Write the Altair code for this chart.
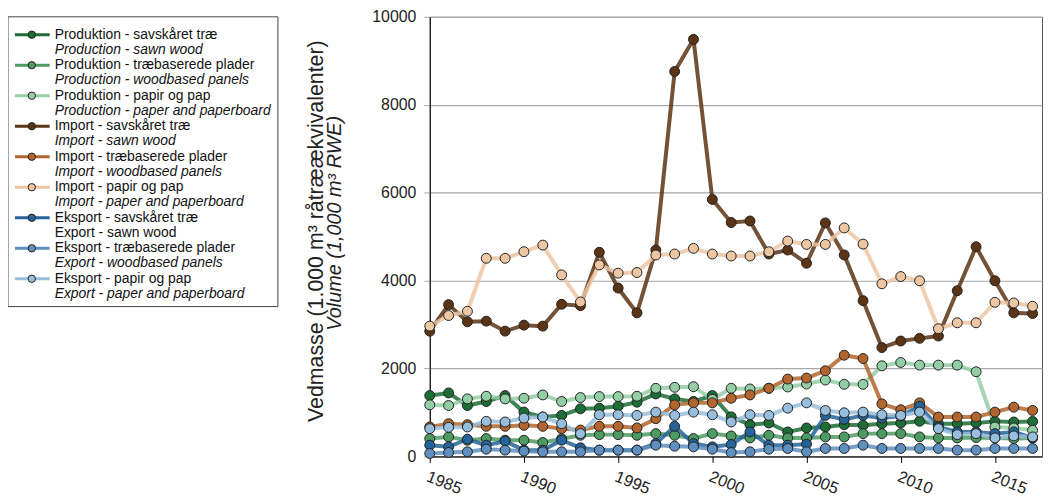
import altair as alt
import pandas as pd

years = list(range(1985, 2018))

series_da = [
    "Produktion - savskåret træ",
    "Produktion - træbaserede plader",
    "Produktion - papir og pap",
    "Import - savskåret træ",
    "Import - træbaserede plader",
    "Import - papir og pap",
    "Eksport - savskåret træ",
    "Eksport - træbaserede plader",
    "Eksport - papir og pap",
]
series_en = [
    "Production - sawn wood",
    "Production - woodbased panels",
    "Production - paper and paperboard",
    "Import - sawn wood",
    "Import - woodbased panels",
    "Import - paper and paperboard",
    "Export - sawn wood",
    "Export - woodbased panels",
    "Export - paper and paperboard",
]
colors = ["#1c6d36", "#4d9b63", "#93cea4", "#5b3415", "#b2652d", "#edc6a3",
          "#24649a", "#5e8fbf", "#97bedc"]

prod_sawn = [1384, 1444, 1158, 1249, 1384, 1008, 896, 933, 1083, 1098,
             1143, 1234, 1422, 1309, 1250, 1384, 900, 722, 760, 557,
             647, 670, 722, 707, 745, 760, 800, 745, 745, 760,
             797, 783, 797]
prod_panels = [406, 444, 369, 406, 369, 369, 316, 400, 481, 496,
               496, 481, 519, 481, 406, 519, 466, 421, 481, 421,
               421, 444, 444, 519, 519, 519, 444, 421, 421, 430,
               421, 406, 421]
prod_paper = [1173, 1158, 1309, 1369, 1309, 1324, 1399, 1249, 1339, 1362,
              1362, 1369, 1549, 1572, 1587, 1300, 1550, 1535, 1550, 1580,
              1648, 1738, 1640, 1640, 2061, 2137, 2077, 2077, 2077, 1926,
              670, 647, 595]
imp_sawn = [2850, 3453, 3063, 3077, 2850, 2986, 2964, 3461, 3430, 4643,
            3830, 3266, 4695, 8757, 9487, 5846, 5320, 5356, 4604, 4695,
            4394, 5312, 4582, 3543, 2476, 2625, 2686, 2738, 3769, 4769,
            3995, 3266, 3250]
imp_panels = [670, 745, 722, 685, 685, 707, 685, 632, 600, 685,
              685, 647, 858, 1173, 1219, 1219, 1324, 1399, 1550, 1760,
              1783, 1948, 2302, 2227, 1196, 1061, 1219, 896, 896, 896,
              1008, 1121, 1046]
imp_paper = [2964, 3205, 3302, 4507, 4507, 4657, 4807, 4130, 3514, 4356,
             4169, 4183, 4582, 4604, 4733, 4604, 4559, 4559, 4657, 4898,
             4823, 4823, 5198, 4830, 3927, 4092, 3995, 2905, 3040, 3040,
             3506, 3491, 3415]
exp_sawn = [256, 218, 391, 256, 346, 143, 143, 369, 196, 143,
            143, 143, 294, 685, 294, 218, 271, 557, 256, 256,
            279, 933, 843, 933, 873, 918, 1143, 670, 557, 557,
            519, 557, 421]
exp_panels = [68, 90, 105, 165, 143, 120, 105, 105, 105, 143,
              143, 143, 256, 233, 218, 165, 90, 105, 165, 181,
              105, 181, 181, 256, 181, 181, 181, 181, 143, 143,
              181, 181, 181]
exp_paper = [632, 662, 670, 798, 783, 873, 896, 745, 519, 948,
             948, 933, 1008, 933, 1008, 948, 783, 948, 933, 1098,
             1219, 1046, 993, 1008, 948, 933, 1008, 632, 497, 519,
             421, 466, 444]

values = [prod_sawn, prod_panels, prod_paper, imp_sawn, imp_panels, imp_paper,
          exp_sawn, exp_panels, exp_paper]

y_title_1 = "Vedmasse (1.000 m³ råtræækvivalenter)"
y_title_2 = "Volume (1,000 m³ RWE)"
x_ticks = [1985, 1990, 1995, 2000, 2005, 2010, 2015]
y_ticks = [0, 2000, 4000, 6000, 8000, 10000]

FONT = "Liberation Sans"

rows = []
for i, (name, vals) in enumerate(zip(series_da, values)):
    for yr, v in zip(years, vals):
        rows.append({"serie": name, "idx": i, "year": yr, "value": v})
df = pd.DataFrame(rows)

leg = pd.DataFrame({"serie": series_da, "en": series_en, "idx": list(range(len(series_da)))})
leg["italic"] = [s != "Export - sawn wood" for s in series_en]

color_scale = alt.Scale(domain=series_da, range=colors)
color = alt.Color("serie:N", scale=color_scale, legend=None)

x_enc = alt.X("year:Q",
              scale=alt.Scale(domain=[1985, 2017.5], nice=False, zero=False),
              axis=alt.Axis(values=x_ticks, format="d", labelAngle=22, labelAlign="left",
                            labelBaseline="top", grid=False, tickSize=6, tickColor="black",
                            domainColor="black", labelFontSize=16.5, labelPadding=6,
                            labelColor="#222", title=None, labelFont=FONT))
y_enc = alt.Y("value:Q",
              scale=alt.Scale(domain=[0, 10000], nice=False),
              axis=alt.Axis(values=y_ticks, format="d", grid=True, gridColor="#a8a8a8",
                            gridWidth=1.2, tickSize=6, tickColor="#a8a8a8", domainColor="black",
                            labelFontSize=16, labelPadding=8, labelColor="#222",
                            title=None, labelFont=FONT))

lines = alt.Chart(df).mark_line(strokeWidth=4, opacity=0.85).encode(
    x=x_enc, y=y_enc, color=color, detail="serie:N")
points = alt.Chart(df).mark_circle(size=100, stroke="#222", strokeWidth=1, opacity=1).encode(
    x=x_enc, y=y_enc, color=color)
main = alt.layer(lines, points)

leg_y = alt.Y("idx:Q", scale=alt.Scale(domain=[0, 8], range=[18, 264]), axis=None)
box = alt.Chart(pd.DataFrame({"a": [0]})).mark_rect(fillOpacity=0, stroke="#444", strokeWidth=1).encode(
    x=alt.value(-425), x2=alt.value(-153), y=alt.value(0), y2=alt.value(292))
leg_rule = alt.Chart(leg).mark_rule(strokeWidth=3).encode(
    x=alt.value(-418), x2=alt.value(-383), y=leg_y, color=color)
leg_pt = alt.Chart(leg).mark_circle(size=55, stroke="#222", strokeWidth=1, opacity=1).encode(
    x=alt.value(-401), y=leg_y, color=color)
leg_da = alt.Chart(leg).mark_text(align="left", baseline="middle", fontSize=14, font=FONT,
                                  color="#111").encode(
    x=alt.value(-378), y=leg_y, text="serie:N")
leg_en_it = alt.Chart(leg).transform_filter("datum.italic").mark_text(
    align="left", baseline="middle", fontSize=14, font=FONT, fontStyle="italic", dy=15,
    color="#111").encode(x=alt.value(-378), y=leg_y, text="en:N")
leg_en_n = alt.Chart(leg).transform_filter("!datum.italic").mark_text(
    align="left", baseline="middle", fontSize=14, font=FONT, dy=15,
    color="#111").encode(x=alt.value(-378), y=leg_y, text="en:N")
legend = alt.layer(box, leg_rule, leg_pt, leg_da, leg_en_it, leg_en_n)

t1 = alt.Chart(pd.DataFrame({"t": [y_title_1]})).mark_text(
    angle=270, align="center", baseline="middle", fontSize=21.5, font=FONT, color="#222").encode(
    x=alt.value(-114), y=alt.value(216), text="t:N")
t2 = alt.Chart(pd.DataFrame({"t": [y_title_2]})).mark_text(
    angle=270, align="center", baseline="middle", fontSize=20, font=FONT, fontStyle="italic",
    color="#222").encode(
    x=alt.value(-95), y=alt.value(208), text="t:N")

chart = alt.layer(main, legend, t1, t2).resolve_scale(y="independent").properties(
    width=617, height=443,
    autosize=alt.AutoSizeParams(type="none"),
    padding={"left": 425, "top": 7, "right": 4, "bottom": 39},
).configure_view(stroke="#555", strokeWidth=1)

chart.save("out.html", embed_options={"renderer": "svg", "actions": False})
